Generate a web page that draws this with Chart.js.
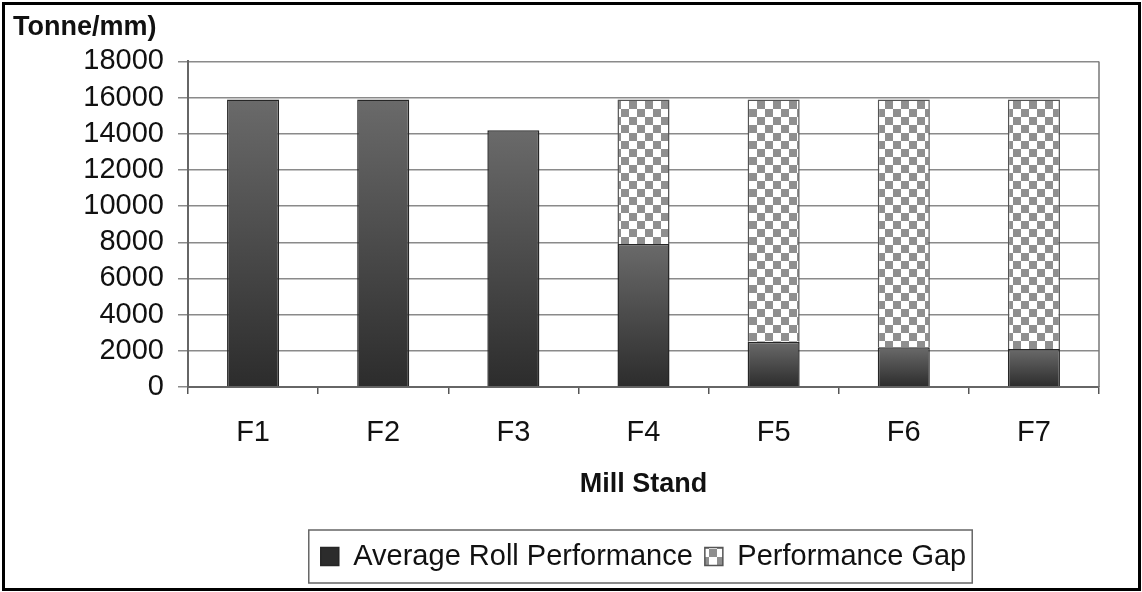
<!DOCTYPE html>
<html>
<head>
<meta charset="utf-8">
<script src="https://cdn.jsdelivr.net/npm/chart.js@4.4.1/dist/chart.umd.min.js"></script>
<style>
  body { margin: 0; background: #fff; }
  #frame {
    position: absolute; left: 2px; top: 2px;
    width: 1133px; height: 583px;
    border: 3px solid #000;
    background: #fff;
  }
</style>
</head>
<body>
<div id="frame"><canvas id="grafico"></canvas></div>
<script>
// Datos
const categories = ['F1', 'F2', 'F3', 'F4', 'F5', 'F6', 'F7'];
const averageRoll = [15900, 15900, 14200, 7900, 2500, 2200, 2100];
const performanceGap = [0, 0, 0, 8000, 13400, 13700, 13800];
const seriesNames = ['Average Roll Performance', 'Performance Gap'];
const yTicks = [0, 2000, 4000, 6000, 8000, 10000, 12000, 14000, 16000, 18000];

const FONT = "'Liberation Sans', Arial, sans-serif";

// Patron de cuadros para el "gap"
function makeChecker() {
    const c = document.createElement('canvas');
    c.width = 16; c.height = 16;
    const g = c.getContext('2d');
    g.fillStyle = '#ffffff';
    g.fillRect(0, 0, 16, 16);
    g.fillStyle = '#8f8f8f';
    g.fillRect(0, 0, 8, 8);
    g.fillRect(8, 8, 8, 8);
    return g.createPattern(c, 'repeat');
}
const checker = makeChecker();

// Relleno degradado de cada barra oscura
function darkFill(context) {
    const chart = context.chart;
    const area = chart.chartArea;
    if (!area || context.dataIndex === undefined || context.type !== 'data') return '#4a4a4a';
    const y = chart.scales.y;
    const top = y.getPixelForValue(averageRoll[context.dataIndex]);
    const bottom = y.getPixelForValue(0);
    const grad = chart.ctx.createLinearGradient(0, top, 0, bottom);
    grad.addColorStop(0, '#6a6a6a');
    grad.addColorStop(1, '#2c2c2c');
    return grad;
}

// Borde del area del grafico y recuadro de la leyenda
const framePlugin = {
    id: 'framePlugin',
    afterLayout(chart) {
        // centrar la leyenda sobre el area de trazado
        chart.legend.left = chart.chartArea.left;
        chart.legend.right = chart.chartArea.right;
    },
    beforeDatasetsDraw(chart) {
        const a = chart.chartArea;
        const ctx = chart.ctx;
        ctx.save();
        ctx.strokeStyle = '#777';
        ctx.lineWidth = 1.5;
        ctx.beginPath();
        ctx.moveTo(a.right, a.top);
        ctx.lineTo(a.right, a.bottom);
        ctx.stroke();
        ctx.restore();
    },
    afterDraw(chart) {
        const boxes = chart.legend.legendHitBoxes;
        if (!boxes || !boxes.length) return;
        let l = Infinity, r = -Infinity, t = Infinity, b = -Infinity;
        boxes.forEach(h => {
            l = Math.min(l, h.left); r = Math.max(r, h.left + h.width);
            t = Math.min(t, h.top); b = Math.max(b, h.top + h.height);
        });
        const ctx = chart.ctx;
        ctx.save();
        ctx.strokeStyle = '#666';
        ctx.lineWidth = 1.5;
        ctx.strokeRect(l - 12, t - 12, (r - l) + 18, (b - t) + 24);
        ctx.restore();
    }
};

const ctx = document.getElementById('grafico').getContext('2d');
const chart = new Chart(ctx, {
    type: 'bar',
    data: {
        labels: categories,
        datasets: [{
            label: seriesNames[0],
            data: averageRoll,
            backgroundColor: darkFill,
            borderColor: '#262626',
            borderWidth: 1.5,
            barPercentage: 0.4,
            categoryPercentage: 1
        }, {
            label: seriesNames[1],
            data: performanceGap,
            backgroundColor: checker,
            borderColor: '#555',
            borderWidth: 1.5,
            barPercentage: 0.4,
            categoryPercentage: 1
        }]
    },
    options: {
        responsive: true,
        maintainAspectRatio: false,
        animation: false,
        layout: { padding: { left: 8, top: 6, right: 39, bottom: 7 } },
        scales: {
            x: {
                stacked: true,
                grid: { drawOnChartArea: false, drawTicks: true, tickLength: 7, color: '#555', lineWidth: 1.5 },
                border: { color: '#666', width: 2 },
                ticks: {
                    color: '#111',
                    padding: 24,
                    autoSkip: false,
                    maxRotation: 0,
                    font: { family: FONT, size: 29, lineHeight: 1.0 }
                },
                title: {
                    display: true,
                    text: 'Mill Stand',
                    color: '#111',
                    font: { family: FONT, size: 27, weight: 'bold', lineHeight: 1.0 },
                    padding: { top: 0, bottom: 32 }
                }
            },
            y: {
                stacked: true,
                min: 0,
                max: 18000,
                afterBuildTicks(scale) {
                    scale.ticks = yTicks.map(v => ({ value: v }));
                },
                afterFit(scale) { scale.width = 175; },
                grid: { color: '#8a8a8a', lineWidth: 1.5, tickLength: 10 },
                border: { color: '#666', width: 2 },
                ticks: {
                    color: '#111',
                    padding: 14,
                    autoSkip: false,
                    font: { family: FONT, size: 29, lineHeight: 1.0 },
                    callback: v => String(v)
                }
            }
        },
        plugins: {
            title: {
                display: true,
                text: 'Tonne/mm)',
                align: 'start',
                color: '#111',
                font: { family: FONT, size: 27, weight: 'bold' },
                padding: { top: 0, bottom: 18 }
            },
            legend: {
                display: true,
                position: 'bottom',
                labels: {
                    color: '#111',
                    boxWidth: 18,
                    boxHeight: 18,
                    padding: 12,
                    font: { family: FONT, size: 29 }
                }
            },
            tooltip: { enabled: false }
        }
    },
    plugins: [framePlugin]
});
</script>
</body>
</html>
